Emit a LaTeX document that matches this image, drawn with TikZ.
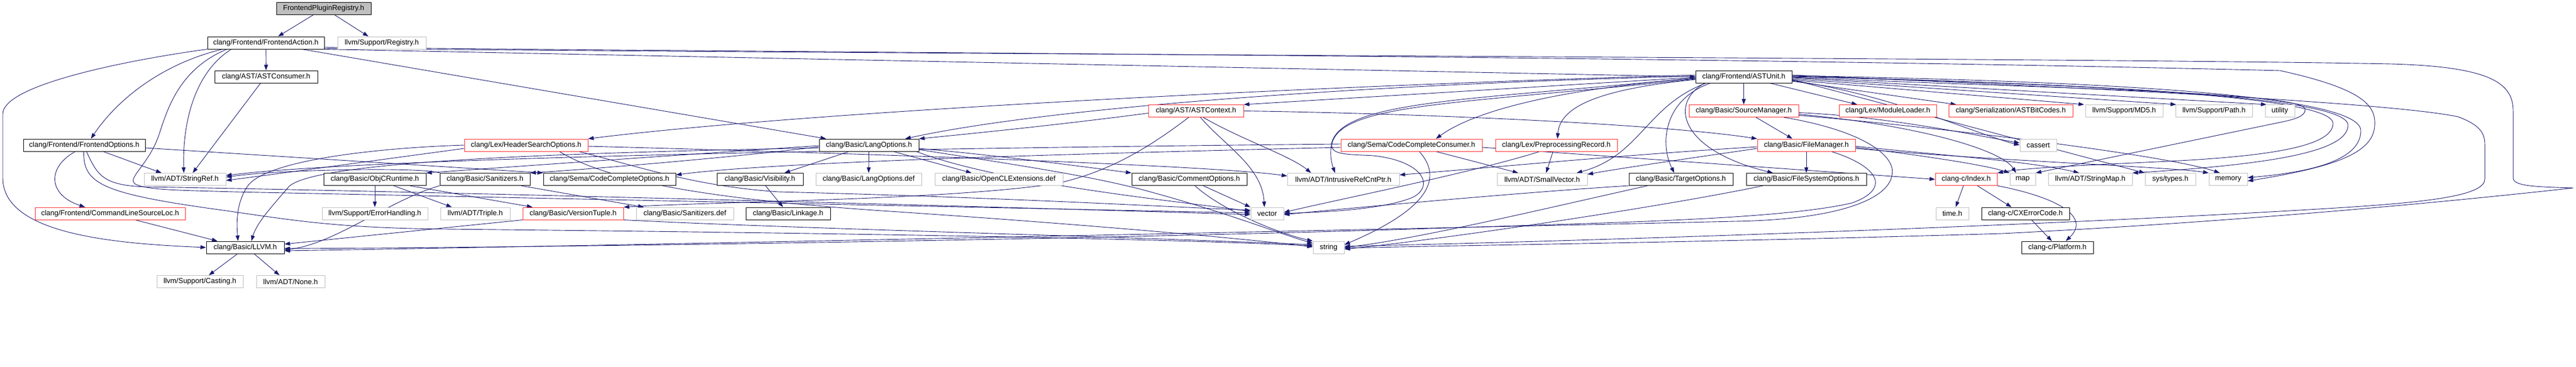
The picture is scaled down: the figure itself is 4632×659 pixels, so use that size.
\documentclass[tikz,border=0pt]{standalone}
\usepackage{fontspec}
\newfontfamily\dxfont{Liberation Sans}
\usetikzlibrary{arrows.meta}
\definecolor{edgec}{RGB}{25,25,112}
\definecolor{redb}{RGB}{255,48,48}
\definecolor{grayb}{RGB}{191,191,191}
\newcommand\nodefont{\dxfont\fontsize{13pt}{15pt}\selectfont}
\newcommand\nd[6]{\node[#1,minimum width=#5pt] (#2) at (#3,#4) {#6};}
\pgfdeclarelayer{bg}
\pgfsetlayers{bg,main}
\tikzset{
  nb/.style={draw=black, fill=white, line width=1pt, minimum height=22pt, inner sep=0pt, font=\nodefont},
  nr/.style={nb, draw=redb},
  ng/.style={nb, draw=grayb},
  nroot/.style={nb, fill=grayb},
  e/.style={draw=edgec, line width=0.9pt, -{Triangle[length=10pt,width=7pt]}}
}
\begin{document}
\begin{tikzpicture}[x=1pt,y=-1pt]
\useasboundingbox (0,0) rectangle (4632,659);
% row 0
\nd{nroot}{fpr}{582}{15.5}{170}{FrontendPluginRegistry.h}
% row 1
\nd{nb}{fa}{478}{77}{210}{clang/Frontend/FrontendAction.h}
\nd{ng}{reg}{686.5}{77}{159}{llvm/Support/Registry.h}
% row 2
\nd{nb}{astcons}{478.5}{138}{185}{clang/AST/ASTConsumer.h}
\nd{nb}{astunit}{3135.5}{138}{173}{clang/Frontend/ASTUnit.h}
% row 3
\nd{nr}{astctx}{2150.5}{199.5}{171}{clang/AST/ASTContext.h}
\nd{nr}{srcmgr}{3135.5}{199.5}{197}{clang/Basic/SourceManager.h}
\nd{nr}{modload}{3394.5}{199.5}{175}{clang/Lex/ModuleLoader.h}
\nd{nr}{bitcodes}{3615.5}{199.5}{223}{clang/Serialization/ASTBitCodes.h}
\nd{ng}{md5}{3819.5}{199.5}{139}{llvm/Support/MD5.h}
\nd{ng}{path}{3981}{199.5}{138}{llvm/Support/Path.h}
\nd{ng}{utility}{4099.5}{199.5}{53}{utility}
% row 4
\nd{nb}{feopts}{151.5}{261}{219}{clang/Frontend/FrontendOptions.h}
\nd{nr}{hso}{946}{261}{222}{clang/Lex/HeaderSearchOptions.h}
\nd{nb}{langopts}{1562.5}{261}{179}{clang/Basic/LangOptions.h}
\nd{nr}{ccc}{2538}{261}{254}{clang/Sema/CodeCompleteConsumer.h}
\nd{nr}{pprec}{2798.5}{261}{219}{clang/Lex/PreprocessingRecord.h}
\nd{nr}{filemgr}{3248}{261}{176}{clang/Basic/FileManager.h}
\nd{ng}{cassert}{3665}{261}{66}{cassert}
% row 5
\nd{ng}{strref}{332.5}{322.5}{147}{llvm/ADT/StringRef.h}
\nd{nb}{objc}{674}{322.5}{184}{clang/Basic/ObjCRuntime.h}
\nd{nb}{sanit}{872}{322.5}{162}{clang/Basic/Sanitizers.h}
\nd{nb}{cco}{1096}{322.5}{238}{clang/Sema/CodeCompleteOptions.h}
\nd{nb}{visib}{1366.5}{322.5}{155}{clang/Basic/Visibility.h}
\nd{ng}{langdef}{1562}{322.5}{190}{clang/Basic/LangOptions.def}
\nd{ng}{opencl}{1796}{322.5}{230}{clang/Basic/OpenCLExtensions.def}
\nd{nb}{comment}{2138.5}{322.5}{207}{clang/Basic/CommentOptions.h}
\nd{ng}{irc}{2415.5}{322.5}{201}{llvm/ADT/IntrusiveRefCntPtr.h}
\nd{ng}{smallvec}{2773}{322.5}{162}{llvm/ADT/SmallVector.h}
\nd{nb}{tgtopts}{3022.5}{322.5}{187}{clang/Basic/TargetOptions.h}
\nd{nb}{fsopts}{3248}{322.5}{216}{clang/Basic/FileSystemOptions.h}
\nd{nr}{index}{3535.5}{322.5}{111}{clang-c/Index.h}
\nd{ng}{map}{3637}{322.5}{46}{map}
\nd{ng}{strmap}{3758.5}{322.5}{151}{llvm/ADT/StringMap.h}
\nd{ng}{systypes}{3902.5}{322.5}{91}{sys/types.h}
\nd{ng}{memory}{4006.5}{322.5}{69}{memory}
% row 6
\nd{nr}{clsl}{198}{384}{270}{clang/Frontend/CommandLineSourceLoc.h}
\nd{ng}{errh}{674}{384}{190}{llvm/Support/ErrorHandling.h}
\nd{ng}{triple}{854.5}{384}{125}{llvm/ADT/Triple.h}
\nd{nr}{vtuple}{1030.5}{384}{181}{clang/Basic/VersionTuple.h}
\nd{ng}{sandef}{1231.5}{384}{175}{clang/Basic/Sanitizers.def}
\nd{nb}{linkage}{1417}{384}{152}{clang/Basic/Linkage.h}
\nd{ng}{vector}{2278.5}{384}{59}{vector}
\nd{ng}{timeh}{3510.5}{384}{59}{time.h}
\nd{nb}{cxerr}{3642}{384}{158}{clang-c/CXErrorCode.h}
% row 7
\nd{nb}{llvm}{441}{445}{140}{clang/Basic/LLVM.h}
\nd{ng}{string}{2389}{445}{56}{string}
\nd{nb}{platform}{3699.5}{445}{129}{clang-c/Platform.h}
% row 8
\nd{ng}{casting}{359.5}{506.5}{155}{llvm/Support/Casting.h}
\nd{ng}{none}{522.5}{506.5}{123}{llvm/ADT/None.h}

\begin{pgfonlayer}{bg}
% FrontendPluginRegistry
\draw[e] ([xshift=-19pt]fpr.south) -- ([xshift=22pt]fa.north);
\draw[e] ([xshift=20pt]fpr.south) -- ([xshift=-24pt]reg.north);
% FrontendAction
\draw[e] (fa) -- (astcons);
\draw[e] (fa.south west) .. controls (250,105) and (5,150) .. (5,205) -- (5,320) .. controls (5,420) and (200,438) .. (llvm.west);
\draw[e] ([xshift=-78pt]fa.south) .. controls (290,115) and (210,180) .. ([xshift=12pt]feopts.north);
\draw[e] ([xshift=-62pt]fa.south) .. controls (350,130) and (328,220) .. ([xshift=-2pt]strref.north);
\draw[e] ([xshift=-70pt]fa.south) .. controls (320,125) and (300,200) .. (285,245) .. controls (265,300) and (225,322) .. (245,332) .. controls (270,342) and (320,342) .. (420,345) -- ([yshift=1pt]vector.west);
\draw[e] ([xshift=65pt]fa.south) -- ([xshift=-77pt]langopts.north);
\draw[e] (fa.south east) -- (astunit.west);
\draw[e] ([yshift=-8pt]fa.east) .. controls (1500,95) and (3000,100) .. (4100,127) .. controls (4250,160) and (4272,190) .. (4270,225) .. controls (4268,275) and (4200,300) .. ([yshift=-3pt]memory.east);
\draw[e] ([yshift=-10pt]fa.east) .. controls (2000,100) and (3800,105) .. (4300,115) .. controls (4480,120) and (4519,150) .. (4519,200) -- (4519,320) .. controls (4519,335) and (4560,336) .. (4627,338) .. controls (4500,352) and (4100,395) .. (3600,420) .. controls (3100,435) and (2700,440) .. ([yshift=-1pt]string.east);
% ASTConsumer
\draw[e] ([xshift=-10pt]astcons.south) -- ([xshift=14pt]strref.north);
% FrontendOptions
\draw[e] ([xshift=-16pt]feopts.south) .. controls (85,300) and (85,350) .. ([xshift=-45pt]clsl.north);
\draw[e] ([xshift=34pt]feopts.south) -- ([xshift=-42pt]strref.north);
\draw[e] ([yshift=-5pt]feopts.east) -- (cco.north west);
\draw[e] ([xshift=-1pt]feopts.south) .. controls (150,330) and (180,348) .. (400,378) .. controls (520,395) and (600,410) .. (800,412) .. controls (1600,420) and (2100,430) .. ([yshift=3pt]string.west);
\draw[e] ([xshift=4pt]feopts.south) .. controls (175,315) and (185,333) .. (260,336) .. controls (800,345) and (1800,372) .. ([yshift=-2pt]vector.west);
% CommandLineSourceLoc
\draw[e] ([xshift=45pt]clsl.south) -- ([xshift=-50pt]llvm.north);
% LLVM
\draw[e] ([xshift=-14pt]llvm.south) -- ([xshift=16pt]casting.north);
\draw[e] ([xshift=16pt]llvm.south) -- ([xshift=-20pt]none.north);
% LangOptions
\draw[e] (langopts.south) -- (langdef.north);
\draw[e] ([xshift=44pt]langopts.south) -- ([xshift=-49pt]opencl.north);
\draw[e] ([xshift=-36pt]langopts.south) -- ([xshift=44pt]visib.north);
\draw[e] ([yshift=-1pt]langopts.west) .. controls (1200,280) and (850,305) .. (objc.north east);
\draw[e] ([yshift=-3pt]langopts.west) .. controls (1300,285) and (1050,305) .. (sanit.north east);
\draw[e] ([yshift=-5pt]langopts.west) .. controls (1000,275) and (570,290) .. (520,335) .. controls (490,370) and (462,400) .. ([xshift=11pt]llvm.north);
\draw[e] ([yshift=-6pt]langopts.east) .. controls (1800,280) and (1950,300) .. (comment.north west);
\draw[e] ([yshift=-8pt]langopts.east) .. controls (1850,300) and (1950,315) .. (2050,340) .. controls (2200,380) and (2300,420) .. ([yshift=-4pt]string.north west);
\draw[e] ([xshift=85pt]langopts.south) .. controls (1800,330) and (2100,360) .. ([yshift=4pt]vector.west);
% ObjCRuntime
\draw[e] (objc.south) -- (errh.north);
\draw[e] ([xshift=34pt]objc.south) -- ([xshift=-42pt]triple.north);
\draw[e] ([xshift=63pt]objc.south) -- ([xshift=-73pt]vtuple.north);
% Sanitizers
\draw[e] ([xshift=65pt]sanit.south) -- ([xshift=-74pt]sandef.north);
\draw[e] (sanit.south west) .. controls (700,360) and (600,440) .. ([yshift=-4pt]llvm.east);
\draw[e] (sanit.north west) .. controls (760,300) and (500,305) .. ([yshift=4pt]strref.east);
% VersionTuple
\draw[e] (vtuple.south west) -- ([yshift=6pt]llvm.east);
\draw[e] (vtuple.south east) .. controls (1400,410) and (2000,425) .. ([yshift=5pt]string.west);
% Visibility
\draw[e] ([xshift=10pt]visib.south) -- ([xshift=-9pt]linkage.north);
% CommentOptions
\draw[e] ([xshift=25pt]comment.south) -- (vector.north west);
\draw[e] ([xshift=10pt]comment.south) .. controls (2200,380) and (2300,420) .. (string.north west);
% HeaderSearchOptions
\draw[e] (hso.west) .. controls (700,265) and (480,285) .. (445,335) .. controls (425,365) and (425,400) .. ([xshift=-13pt]llvm.north);
\draw[e] ([yshift=-6pt]hso.west) .. controls (700,285) and (520,310) .. ([yshift=-2pt]strref.east);
\draw[e] ([yshift=-2pt]hso.east) .. controls (1700,280) and (2200,300) .. ([yshift=6pt]irc.west);
\draw[e] ([xshift=95pt]hso.south) .. controls (1150,300) and (1250,335) .. (1400,345) .. controls (1800,355) and (2100,372) .. ([yshift=6pt]vector.west);
\draw[e] ([xshift=60pt]hso.south) .. controls (1100,330) and (1300,360) .. (1600,380) .. controls (1900,400) and (2200,425) .. ([yshift=1pt]string.west);
% ASTContext
\draw[e] ([yshift=-4pt]astctx.west) .. controls (1900,225) and (1750,240) .. (langopts.north east);
\draw[e] ([xshift=-13pt]astctx.south) .. controls (2060,270) and (1990,310) .. (1900,330) .. controls (1700,360) and (1300,362) .. (vtuple.north east);
\draw[e] ([xshift=8pt]astctx.south) .. controls (2200,260) and (2270,300) .. ([xshift=-5pt]vector.north);
\draw[e] ([xshift=13pt]astctx.south) .. controls (2230,250) and (2320,280) .. ([xshift=-58pt]irc.north);
\draw[e] (astctx.east) .. controls (2600,205) and (3000,225) .. (filemgr.north west);
% CodeCompleteConsumer
\draw[e] ([xshift=14pt]ccc.south) .. controls (2595,320) and (2570,375) .. ([yshift=5pt]string.east);
\draw[e] ([xshift=44pt]ccc.south) -- ([xshift=-43pt]smallvec.north);
\draw[e] ([yshift=-4pt]ccc.west) .. controls (2000,275) and (1400,290) .. ([yshift=8pt]cco.east);
\draw[e] ([yshift=2pt]ccc.west) .. controls (1800,265) and (700,280) .. ([yshift=7pt]strref.east);
\draw[e] ([yshift=-4pt]ccc.east) -- (index.west);
% PreprocessingRecord
\draw[e] ([xshift=-6pt]pprec.south) -- ([xshift=7pt]smallvec.north);
\draw[e] ([xshift=-30pt]pprec.south) .. controls (2650,310) and (2400,360) .. ([yshift=2pt]vector.east);
% TargetOptions
\draw[e] (tgtopts.south west) .. controls (2750,345) and (2450,372) .. ([yshift=-2pt]vector.east);
\draw[e] ([xshift=-60pt]tgtopts.south) .. controls (2800,370) and (2550,430) .. (string.east);
% FileSystemOptions
\draw[e] ([xshift=-78pt]fsopts.south) .. controls (3000,370) and (2600,430) .. ([yshift=-3pt]string.east);
% FileManager
\draw[e] (filemgr) -- (fsopts);
\draw[e] ([yshift=-3pt]filemgr.west) .. controls (2900,280) and (2700,300) .. ([yshift=8pt]irc.east);
\draw[e] ([yshift=-6pt]filemgr.west) .. controls (3000,290) and (2900,305) .. ([yshift=9pt]smallvec.east);
\draw[e] ([yshift=-2pt]filemgr.east) .. controls (3500,280) and (3650,290) .. ([xshift=-20pt]strmap.north);
\draw[e] ([yshift=-4pt]filemgr.east) .. controls (3500,285) and (3580,300) .. (map.north west);
\draw[e] ([yshift=-6pt]filemgr.east) .. controls (3600,290) and (3900,300) .. (memory.north west);
\draw[e] ([xshift=45pt]filemgr.south) .. controls (3380,300) and (3400,340) .. (3330,365) .. controls (3200,395) and (2900,400) .. (2600,410) .. controls (2000,430) and (1000,445) .. ([yshift=-2pt]llvm.east);
% SourceManager
\draw[e] ([xshift=22pt]srcmgr.south) -- ([xshift=-25pt]filemgr.north);
\draw[e] ([xshift=72pt]srcmgr.south) .. controls (3350,235) and (3410,280) .. (3402,315) .. controls (3395,360) and (3300,395) .. (3120,398) .. controls (2600,410) and (1200,440) .. ([yshift=-6pt]llvm.east);
\draw[e] ([yshift=-3pt]srcmgr.east) .. controls (3400,210) and (3560,245) .. ([yshift=4pt]cassert.west);
\draw[e] ([yshift=-6pt]srcmgr.east) .. controls (3450,225) and (3600,270) .. ([xshift=-12pt]map.north);
\draw[e] ([yshift=-8pt]srcmgr.east) .. controls (3500,230) and (3900,280) .. ([xshift=-15pt]memory.north);
% clang-c
\draw[e] ([xshift=-5pt]index.south) -- ([xshift=6pt]timeh.north);
\draw[e] ([xshift=20pt]index.south) -- ([xshift=-25pt]cxerr.north);
\draw[e] (index.south east) .. controls (3700,355) and (3760,390) .. ([xshift=15pt]platform.north);
\draw[e] ([xshift=11pt]cxerr.south) -- ([xshift=-10pt]platform.north);
% ASTUnit
\draw[e] (astunit) -- (srcmgr);
\draw[e] ([xshift=47pt]astunit.south) -- ([xshift=-55pt]modload.north);
\draw[e] ([yshift=-8pt]astunit.east) -- ([xshift=-98pt]bitcodes.north);
\draw[e] ([yshift=-6pt]astunit.east) -- ([xshift=-72pt]md5.north);
\draw[e] ([yshift=-4pt]astunit.east) -- ([xshift=-68pt]path.north);
\draw[e] ([yshift=-2pt]astunit.east) -- ([xshift=-24pt]utility.north);
\draw[e] ([yshift=-7pt]astunit.east) .. controls (3400,170) and (3550,240) .. (cassert.west);
\draw[e] ([yshift=-5pt]astunit.east) -- (systypes.north west);
\draw[e] ([yshift=-1pt]astunit.east) .. controls (3700,160) and (4145,165) .. (4145,197) .. controls (4145,208) and (4130,214) .. (4100,220) -- (map.north east);
\draw[e] (astunit.east) .. controls (3700,150) and (4195,170) .. (4195,222) .. controls (4195,260) and (4100,280) .. (3900,290) .. controls (3750,297) and (3640,302) .. (index.north east);
\draw[e] ([yshift=1pt]astunit.east) .. controls (3700,150) and (4222,170) .. (4222,225) .. controls (4222,270) and (4100,295) .. (strmap.north east);
\draw[e] ([yshift=2pt]astunit.east) .. controls (3700,145) and (4245,165) .. (4245,235) .. controls (4245,290) and (4150,310) .. ([yshift=3pt]memory.east);
\draw[e] ([yshift=3pt]astunit.east) .. controls (3800,160) and (4300,185) .. (4420,210) .. controls (4460,225) and (4468,240) .. (4468,260) -- (4468,322) .. controls (4468,350) and (4380,362) .. (4232,372) .. controls (3800,400) and (3000,430) .. ([yshift=2pt]string.east);
\draw[e] ([yshift=3pt]astunit.west) .. controls (2500,150) and (1500,195) .. (hso.north east);
\draw[e] ([yshift=1pt]astunit.west) .. controls (2500,150) and (1900,190) .. ([xshift=65pt]langopts.north);
\draw[e] ([yshift=-1pt]astunit.west) -- (astctx.north east);
\draw[e] ([yshift=-3pt]astunit.west) .. controls (2800,160) and (2650,200) .. ([xshift=44pt]ccc.north);
\draw[e] ([yshift=-5pt]astunit.west) .. controls (2880,160) and (2805,190) .. ([xshift=2pt]pprec.north);
\draw[e] ([yshift=-2pt]astunit.west) .. controls (2650,180) and (2420,180) .. (2395,255) .. controls (2390,280) and (2395,295) .. ([xshift=-15pt]irc.north);
\draw[e] ([yshift=-4pt]astunit.west) .. controls (2650,185) and (2430,185) .. (2398,250) .. controls (2383,280) and (2420,277) .. (2470,280) .. controls (2560,290) and (2580,335) .. (2540,355) .. controls (2480,380) and (2350,382) .. (vector.east);
\draw[e] ([xshift=-68pt]astunit.south) .. controls (2960,190) and (2950,280) .. ([xshift=62pt]smallvec.north);
\draw[e] ([xshift=-60pt]astunit.south) .. controls (2990,180) and (2985,260) .. ([xshift=-12pt]tgtopts.north);
\draw[e] ([xshift=-70pt]astunit.south) .. controls (3000,185) and (3020,270) .. ([xshift=-60pt]fsopts.north);
\end{pgfonlayer}
\end{tikzpicture}
\end{document}
